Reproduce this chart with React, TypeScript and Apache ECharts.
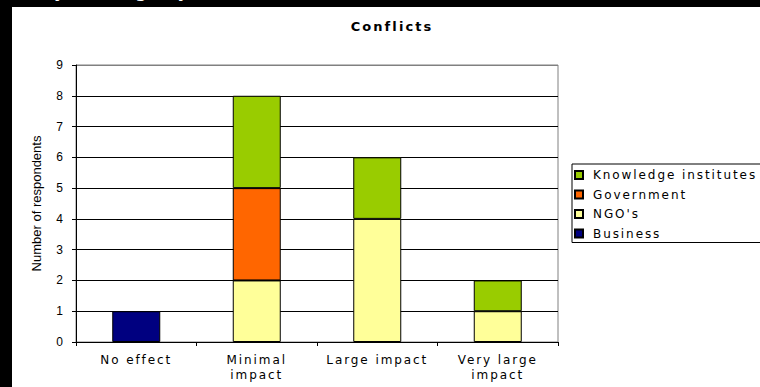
import React, { useEffect, useRef } from "react";
import * as echarts from "echarts";

// Impact categories on the x axis
const categories = ["No effect", "Minimal\nimpact", "Large impact", "Very large\nimpact"];

// Respondents per group, stacked from the bottom up
const business = [1, 0, 0, 0];
const ngos = [0, 2, 4, 1];
const government = [0, 3, 0, 0];
const knowledgeInstitutes = [0, 3, 2, 1];

const yTicks = [0, 1, 2, 3, 4, 5, 6, 7, 8, 9];

const seriesDefs = [
  { name: "Business", data: business, color: "#000080" },
  { name: "NGO's", data: ngos, color: "#FFFF99" },
  { name: "Government", data: government, color: "#FF6600" },
  { name: "Knowledge institutes", data: knowledgeInstitutes, color: "#99CC00" },
];

const WIDE = "DejaVu Sans";
const NARROW = "Liberation Sans";

const css = `
#conflicts-chart text[style*="DejaVu"] { letter-spacing: 0.16em; }
`;

export default function App() {
  const ref = useRef<HTMLDivElement>(null);

  useEffect(() => {
    if (!ref.current) return;
    const chart = echarts.init(ref.current, null, { renderer: "svg" });

    const splitColors = yTicks.map((_, i) => (i === yTicks.length - 1 ? "#808080" : "#000000"));

    chart.setOption({
      animation: false,
      backgroundColor: "#000000",
      graphic: [
        {
          type: "rect",
          z: -10,
          shape: { x: 12, y: 7, width: 748, height: 380 },
          style: { fill: "#ffffff" },
        },
        {
          // page heading above the panel; only its descenders fall inside the window
          type: "text",
          x: 38,
          y: -10,
          style: {
            text: "by category",
            fill: "#ffffff",
            font: `20px "${WIDE}"`,
            align: "left",
            verticalAlign: "middle",
          },
        },
        {
          type: "text",
          x: 392,
          y: 26,
          style: {
            text: "Conflicts",
            fill: "#000000",
            font: `bold 13px "${WIDE}"`,
            align: "center",
            verticalAlign: "middle",
          },
        },
      ],
      grid: {
        left: 76,
        top: 65,
        width: 482,
        height: 277,
        show: true,
        borderColor: "#808080",
        borderWidth: 1,
        backgroundColor: "#ffffff",
      },
      legend: {
        orient: "vertical",
        left: 572,
        top: 164,
        data: ["Knowledge institutes", "Government", "NGO's", "Business"],
        icon: "rect",
        itemWidth: 8,
        itemHeight: 8,
        itemGap: 7.5,
        padding: [5, 60, 3, 2],
        borderColor: "#000000",
        borderWidth: 1,
        backgroundColor: "#ffffff",
        textStyle: {
          fontFamily: WIDE,
          fontSize: 12,
          color: "#000000",
          lineHeight: 12,
          padding: [0, 0, 0, 5],
        },
      },
      xAxis: {
        type: "category",
        data: categories,
        axisLine: { lineStyle: { color: "#000000", width: 1 } },
        axisTick: { show: true, length: 4, lineStyle: { color: "#000000" } },
        axisLabel: {
          interval: 0,
          margin: 10,
          color: "#000000",
          fontFamily: WIDE,
          fontSize: 12,
          lineHeight: 15,
        },
      },
      yAxis: {
        type: "value",
        min: 0,
        max: 9,
        interval: 1,
        name: "Number of respondents",
        nameLocation: "middle",
        nameGap: 33,
        nameTextStyle: { fontFamily: NARROW, fontSize: 13, color: "#000000" },
        axisLine: { show: true, lineStyle: { color: "#000000", width: 1 } },
        axisTick: { show: true, length: 4, lineStyle: { color: "#000000" } },
        axisLabel: { margin: 13, color: "#000000", fontFamily: NARROW, fontSize: 12 },
        splitLine: { show: true, lineStyle: { color: splitColors, width: 1 } },
      },
      series: seriesDefs.map((s) => ({
        name: s.name,
        type: "bar",
        stack: "total",
        barWidth: 48,
        data: s.data.map((v) => (v === 0 ? "-" : v)),
        itemStyle: { color: s.color, borderColor: "#000000", borderWidth: 1 },
      })),
    });

    return () => chart.dispose();
  }, []);

  return (
    <>
      <style>{css}</style>
      <div
        id="conflicts-chart"
        ref={ref}
        style={{ position: "absolute", left: 0, top: 0, width: 760, height: 387 }}
      />
    </>
  );
}
